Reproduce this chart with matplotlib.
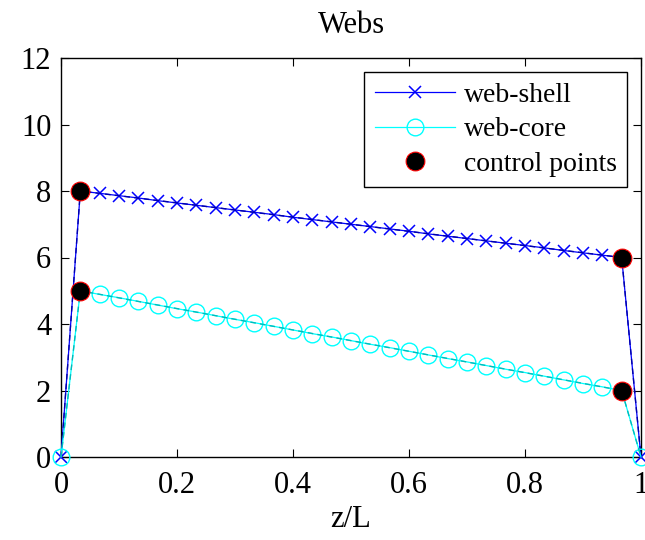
import matplotlib
matplotlib.use("Agg")
import matplotlib.pyplot as plt

plt.rcParams["font.family"] = ["Liberation Serif", "DejaVu Serif"]

# samples along z/L (k/30, k = 0..30)
z = [k / 30 for k in range(31)]

web_shell = [0.00,
             8.00, 7.93, 7.86, 7.79, 7.71, 7.64, 7.57, 7.50, 7.43, 7.36,
             7.29, 7.21, 7.14, 7.07, 7.00, 6.93, 6.86, 6.79, 6.71, 6.64,
             6.57, 6.50, 6.43, 6.36, 6.29, 6.21, 6.14, 6.07, 6.00,
             0.00]
web_core = [0.00,
            5.00, 4.89, 4.79, 4.68, 4.57, 4.46, 4.36, 4.25, 4.14, 4.04,
            3.93, 3.82, 3.71, 3.61, 3.50, 3.39, 3.29, 3.18, 3.07, 2.96,
            2.86, 2.75, 2.64, 2.54, 2.43, 2.32, 2.21, 2.11, 2.00,
            0.00]

# control polygons
ctrl_z = [0.0, 1 / 30, 29 / 30, 1.0]
ctrl_shell = [0, 8, 6, 0]
ctrl_core = [0, 5, 2, 0]

# control points shown as black dots
cp_z = [1 / 30, 29 / 30, 1 / 30, 29 / 30]
cp_y = [8, 6, 5, 2]

xticks = [0, 0.2, 0.4, 0.6, 0.8, 1]
xticklabels = ["0", "0.2", "0.4", "0.6", "0.8", "1"]
yticks = [0, 2, 4, 6, 8, 10, 12]

fig = plt.figure(figsize=(6.45, 5.4), dpi=100)
ax = fig.add_axes([61 / 645, 1 - 457 / 540, 580 / 645, 399 / 540])

ax.plot(z, web_shell, color="blue", lw=0.9, marker="x", ms=8, mew=1.1,
        label="web-shell", clip_on=False, zorder=3)
ax.plot(ctrl_z, ctrl_shell, color="#0000aa", lw=1.0, ls="--", dashes=(4, 3),
        clip_on=False, zorder=3)
ax.plot(z, web_core, color="cyan", lw=0.9, marker="o", ms=12, mfc="none",
        mew=1.0, label="web-core", clip_on=False, zorder=3)
ax.plot(ctrl_z, ctrl_core, color="#00bbbb", lw=1.0, ls="--", dashes=(4, 3),
        clip_on=False, zorder=3)
ax.plot(cp_z, cp_y, ls="none", marker="o", ms=13.5, mfc="black", mec="red",
        mew=0.8, label="control points", zorder=4)

ax.set_xlim(0, 1)
ax.set_ylim(0, 12)
ax.set_xticks(xticks)
ax.set_xticklabels(xticklabels)
ax.set_yticks(yticks)
ax.tick_params(direction="in", top=True, right=True, labelsize=22,
               length=6, width=0.8)
ax.tick_params(axis="x", pad=10)
ax.tick_params(axis="y", pad=7)
for s in ax.spines.values():
    s.set_linewidth(1.0)

ax.set_title("Webs", fontsize=22, pad=18)
ax.set_xlabel("z/L", fontsize=22, labelpad=4)

leg = ax.legend(loc="upper right", fontsize=20, fancybox=False,
                edgecolor="black", framealpha=1, handlelength=2.9,
                handletextpad=0.3, labelspacing=0.32, borderpad=0.38,
                borderaxespad=0.5)
leg.get_frame().set_linewidth(1.0)

fig.savefig("out.png", dpi=100)
